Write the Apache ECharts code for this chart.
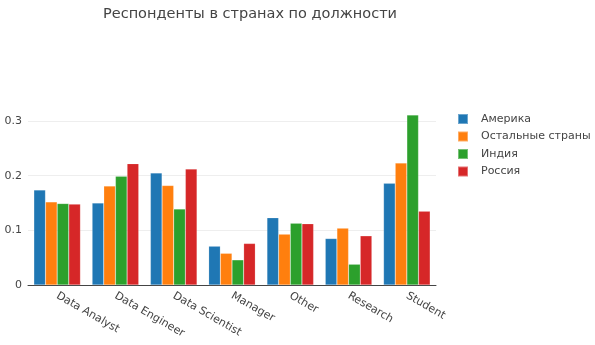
<!DOCTYPE html>
<html><head><meta charset="utf-8">
<script src="https://cdn.jsdelivr.net/npm/echarts@6/dist/echarts.min.js"></script>
<style>html,body{margin:0;padding:0;background:#fff}#c{width:595px;height:345px}</style>
</head><body><div id="c"></div>
<script>
const categories = ["Data Analyst","Data Engineer","Data Scientist","Manager","Other","Research","Student"];
const seriesNames = ["Америка","Остальные страны","Индия","Россия"];
const america = [0.174,0.150,0.205,0.071,0.123,0.085,0.186];
const others  = [0.152,0.181,0.182,0.058,0.093,0.104,0.223];
const india   = [0.149,0.199,0.139,0.046,0.113,0.038,0.311];
const russia  = [0.148,0.222,0.212,0.076,0.112,0.090,0.135];
const colors = ["#1f77b4","#ff7f0e","#2ca02c","#d62728"];
const values = [america, others, india, russia];
const font = "DejaVu Sans, Verdana, sans-serif";

const chart = echarts.init(document.getElementById('c'), null, {renderer:'canvas'});
chart.setOption({
  animation:false,
  title:{text:"Респонденты в странах по должности", left:98, top:2,
    textStyle:{fontFamily:font, fontSize:14.5, fontWeight:'normal', color:'#444'}},
  legend:{orient:'vertical', left:452, top:108, itemWidth:10, itemHeight:10, itemGap:5.5,
    icon:'rect', data:seriesNames,
    textStyle:{fontFamily:font, fontSize:11, color:'#444', lineHeight:12, padding:[0,0,0,8]}},
  grid:{left:28, right:159, top:121, bottom:60, containLabel:false},
  xAxis:{type:'category', data:categories,
    axisLine:{lineStyle:{color:'#444', width:1}}, axisTick:{show:false},
    axisLabel:{rotate:-30, margin:10, fontFamily:font, fontSize:11, color:'#444', interval:0}},
  yAxis:{type:'value', min:0, max:0.3, interval:0.1,
    axisLine:{show:false}, axisTick:{show:false},
    splitLine:{lineStyle:{color:'#eee', width:1}},
    axisLabel:{margin:6, fontFamily:font, fontSize:11, color:'#444'}},
  series: seriesNames.map((n,i)=>({name:n, type:'bar', data:values[i], clip:false,
    barGap:0, barCategoryGap:'20%',
    itemStyle:{color:colors[i], borderColor:'rgba(255,255,255,0.35)', borderWidth:0.5}}))
});
</script></body></html>
